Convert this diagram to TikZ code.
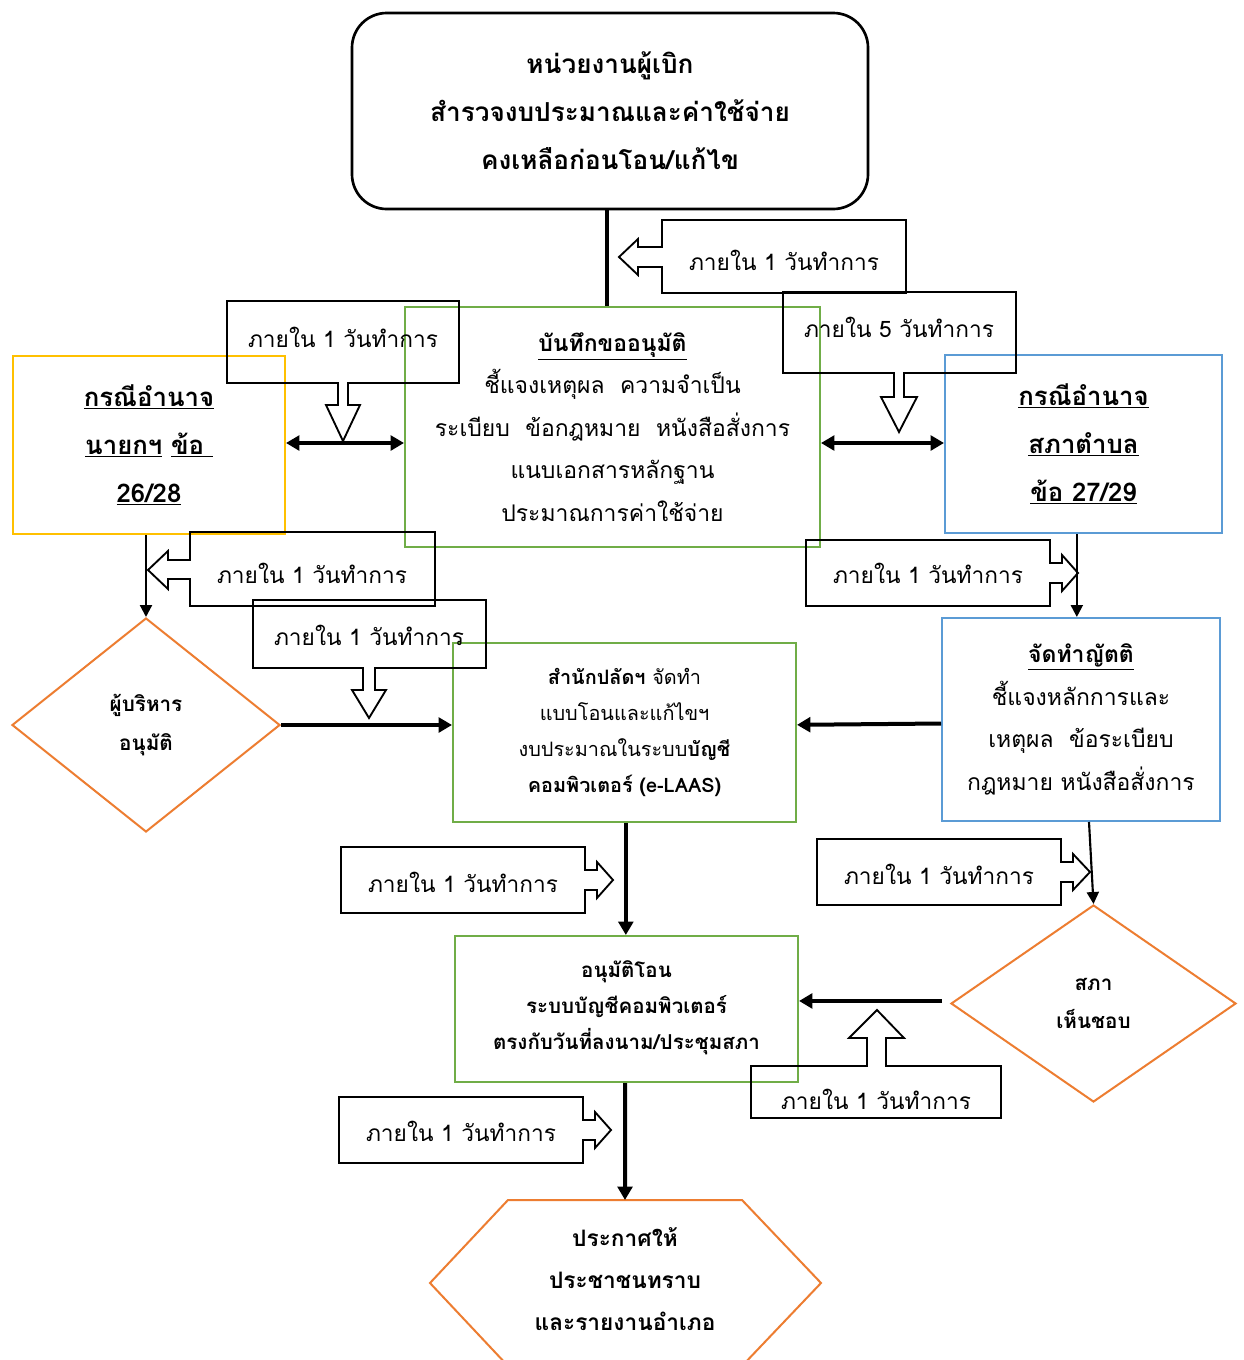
\documentclass[tikz,border=0pt]{standalone}
\usepackage{fontspec}
\setmainfont{Loma}[Script=Thai]
\usetikzlibrary{arrows.meta,shapes.geometric}
\definecolor{cYellow}{HTML}{FFC000}
\definecolor{cGreen}{HTML}{70AD47}
\definecolor{cBlue}{HTML}{5B9BD5}
\definecolor{cOrange}{HTML}{ED7D31}
\begin{document}
\begin{tikzpicture}[x=0.75pt,y=-0.75pt,
  box/.style={draw, line width=1.5pt, inner sep=0pt, align=center},
  gbox/.style={box, draw=cGreen},
  ybox/.style={box, draw=cYellow},
  bbox/.style={box, draw=cBlue},
  dia/.style={diamond, draw=cOrange, line width=1.5pt, inner sep=0pt, align=center, aspect=1.25},
  callout/.style={draw=black, line width=1.4pt, line join=miter},
  ctext/.style={inner sep=0pt, font=\fontsize{17}{20}\selectfont},
  thick arrow/.style={line width=3pt, -{Triangle[length=10pt,width=11pt]}},
  thin arrow/.style={line width=1.6pt, -{Triangle[length=9pt,width=9pt]}},
  dbl arrow/.style={line width=3pt, {Triangle[length=10pt,width=11pt]}-{Triangle[length=10pt,width=11pt]}},
  plain line/.style={line width=3pt}
]
\clip (0,0) rectangle (1243,1360);
\fill[white] (0,0) rectangle (1243,1360);

% ---------- main boxes ----------
\node[box, draw=black, line width=2pt, rounded corners=26pt, minimum width=387pt, minimum height=147pt,
      font=\fontsize{19.6}{36}\selectfont\bfseries] (top) at (610,111)
  {หน่วยงานผู้เบิก\\สำรวจงบประมาณและค่าใช้จ่าย\\คงเหลือก่อนโอน/แก้ไข};

\node[gbox, minimum width=311.25pt, minimum height=180pt, font=\fontsize{17.2}{31.8}\selectfont] (memo) at (612.5,427)
  {\textbf{\underline{บันทึกขออนุมัติ}}\\ชี้แจงเหตุผล\ \ ความจำเป็น\\ระเบียบ\ \ ข้อกฎหมาย\ \ หนังสือสั่งการ\\แนบเอกสารหลักฐาน\\ประมาณการค่าใช้จ่าย};

\node[ybox, minimum width=204pt, minimum height=133.5pt, font=\fontsize{19.3}{36}\selectfont\bfseries] (yel) at (149,445)
  {\underline{กรณีอำนาจ}\\\underline{นายกฯ} \underline{ข้อ\ }\\\underline{26/28}};

\node[bbox, minimum width=207.75pt, minimum height=133.5pt, font=\fontsize{19.3}{36}\selectfont\bfseries] (blue1) at (1083.5,444)
  {\underline{กรณีอำนาจ}\\\underline{สภาตำบล}\\\underline{ข้อ 27/29}};

\node[gbox, minimum width=257.25pt, minimum height=134.25pt, font=\fontsize{14.9}{27}\selectfont] (mid) at (624.5,732.5)
  {\textbf{สำนักปลัดฯ} จัดทำ\\แบบโอนและแก้ไขฯ\\งบประมาณในระบบ\textbf{บัญชี}\\\textbf{คอมพิวเตอร์ (e-LAAS)}};

\node[bbox, minimum width=208.5pt, minimum height=152.25pt, font=\fontsize{17.2}{32}\selectfont] (blue2) at (1081,719.5)
  {\textbf{\underline{จัดทำญัตติ}}\\ชี้แจงหลักการและ\\เหตุผล\ \ ข้อระเบียบ\\กฎหมาย หนังสือสั่งการ};

\node[gbox, minimum width=257.25pt, minimum height=109.5pt, font=\fontsize{15.4}{27}\selectfont\bfseries] (appr) at (626.5,1009)
  {อนุมัติโอน\\ระบบบัญชีคอมพิวเตอร์\\ตรงกับวันที่ลงนาม/ประชุมสภา\\[-21pt]\mbox{}};

\node[dia, minimum width=201pt, minimum height=160.5pt, font=\fontsize{15.5}{29}\selectfont\bfseries] (dl) at (146,725)
  {ผู้บริหาร\\อนุมัติ};

\node[dia, minimum width=213.75pt, minimum height=147.75pt, font=\fontsize{15.5}{29}\selectfont\bfseries] (dr) at (1093.5,1003.5)
  {สภา\\เห็นชอบ};

% hexagon
\draw[draw=cOrange, line width=1.5pt] (508,1200) -- (742,1200) -- (821,1283) -- (742,1366) -- (508,1366) -- (430,1283) -- cycle;
\coordinate (hextop) at (625,1200);
\node[inner sep=0pt, align=center, font=\fontsize{17}{31.5}\selectfont\bfseries] (hex) at (625,1279)
  {ประกาศให้\\ประชาชนทราบ\\และรายงานอำเภอ};

% ---------- callouts ----------
% c1 top, left arrow
\draw[callout] (662,220) -- (906,220) -- (906,293) -- (662,293) -- (662,267) -- (638,267) -- (638,275) -- (619,257) -- (638,239) -- (638,247) -- (662,247) -- cycle;
\node[ctext] (c1) at (784,260) {ภายใน 1 วันทำการ};
% c2 left-top, down arrow
\draw[callout] (227,301) -- (459,301) -- (459,383) -- (348,383) -- (348,405) -- (360,405) -- (343,441) -- (326,405) -- (338,405) -- (338,383) -- (227,383) -- cycle;
\node[ctext] (c2) at (343,337) {ภายใน 1 วันทำการ};
% c3 right-top, down arrow
\draw[callout] (783,292) -- (1016,292) -- (1016,373) -- (904,373) -- (904,397) -- (917,397) -- (899,432) -- (881,397) -- (894,397) -- (894,373) -- (783,373) -- cycle;
\node[ctext] (c3) at (899,327) {ภายใน 5 วันทำการ};
% c4 left-middle, left arrow
\draw[callout] (190,532) -- (435,532) -- (435,606) -- (190,606) -- (190,579) -- (168,579) -- (168,589) -- (148,570) -- (168,551) -- (168,560) -- (190,560) -- cycle;
\node[ctext] (c4) at (312,573) {ภายใน 1 วันทำการ};
% c5 right-middle, right arrow
\draw[callout] (806,540) -- (1050,540) -- (1050,563) -- (1062,563) -- (1062,555) -- (1078,573) -- (1062,591) -- (1062,583) -- (1050,583) -- (1050,606) -- (806,606) -- cycle;
\node[ctext] (c5) at (928,573) {ภายใน 1 วันทำการ};
% c6 middle, down arrow
\draw[callout] (253,600) -- (486,600) -- (486,668) -- (375,668) -- (375,690) -- (386,690) -- (369,718) -- (352,690) -- (363,690) -- (363,668) -- (253,668) -- cycle;
\node[ctext] (c6) at (369,635) {ภายใน 1 วันทำการ};
% c7 right arrow
\draw[callout] (341,847) -- (585,847) -- (585,870) -- (597,870) -- (597,862) -- (613,880) -- (597,898) -- (597,890) -- (585,890) -- (585,913) -- (341,913) -- cycle;
\node[ctext] (c7) at (463,882) {ภายใน 1 วันทำการ};
% c8 right arrow
\draw[callout] (817,839) -- (1061,839) -- (1061,862) -- (1073,862) -- (1073,854) -- (1090,872) -- (1073,890) -- (1073,882) -- (1061,882) -- (1061,905) -- (817,905) -- cycle;
\node[ctext] (c8) at (939,874) {ภายใน 1 วันทำการ};
% c9 up arrow
\draw[callout] (751,1066) -- (867,1066) -- (867,1038) -- (849,1038) -- (877,1010) -- (904,1038) -- (886,1038) -- (886,1066) -- (1001,1066) -- (1001,1118) -- (751,1118) -- cycle;
\node[ctext] (c9) at (876,1099) {ภายใน 1 วันทำการ};
% c10 right arrow
\draw[callout] (339,1097) -- (583,1097) -- (583,1120) -- (595,1120) -- (595,1112) -- (611,1130) -- (595,1148) -- (595,1140) -- (583,1140) -- (583,1163) -- (339,1163) -- cycle;
\node[ctext] (c10) at (461,1131) {ภายใน 1 วันทำการ};

% ---------- connectors ----------
\draw[plain line] ([xshift=-2.5pt]top.south) -- ([xshift=-2.5pt]top.south |- memo.north);
\draw[dbl arrow] ([yshift=1.5pt]yel.east) -- ([yshift=1.5pt]yel.east -| memo.west);
\draw[dbl arrow] ([yshift=0.75pt]memo.east |- blue1.west) -- ([yshift=0.75pt]blue1.west);
\draw[thin arrow] (dl.north |- yel.south) -- (dl.north);
\draw[thick arrow] (dl.east) -- (dl.east -| mid.west);
\draw[thin arrow] ([xshift=-5pt]blue1.south) -- ([xshift=-5pt]blue1.south |- blue2.north);
\draw[thick arrow] ([yshift=-3pt]blue2.west) -- ([yshift=-4pt]blue2.west -| mid.east);
\draw[thick arrow] ([xshift=1pt]mid.south) -- ([xshift=1pt]mid.south |- appr.north);
\draw[thin arrow] ([xshift=6pt]blue2.south) -- (dr.north);
\draw[thick arrow] ([xshift=-6pt,yshift=1.9pt]dr.west) -- ([yshift=1.9pt]dr.west -| appr.east);
\draw[thick arrow] ([xshift=-1pt]appr.south) -- (hextop);
\end{tikzpicture}
\end{document}
